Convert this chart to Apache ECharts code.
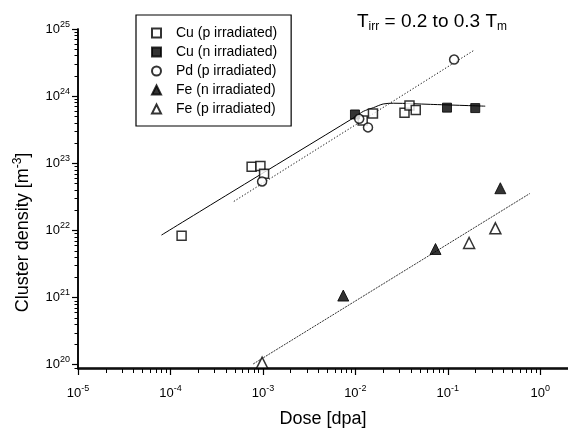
<!DOCTYPE html>
<html>
<head>
<meta charset="utf-8">
<script src="https://cdn.jsdelivr.net/npm/echarts@6/dist/echarts.min.js"></script>
<style>
  html, body { margin: 0; padding: 0; background: #fff; }
  #chart { width: 568px; height: 433px; }
</style>
</head>
<body>
<div id="chart"></div>
<script>
// measured points, dose in dpa, density in m^-3
const cuPDose = [1.32e-4, 7.55e-4, 9.4e-4, 1.03e-3, 1.2e-2, 1.55e-2, 3.4e-2, 3.85e-2, 4.5e-2];
const cuPDens = [8.2e21, 8.8e22, 9.0e22, 6.9e22, 4.3e23, 5.5e23, 5.6e23, 7.2e23, 6.2e23];
const cuNDose = [9.9e-3, 9.8e-2, 0.198];
const cuNDens = [5.3e23, 6.7e23, 6.6e23];
const pdDose = [9.8e-4, 1.1e-2, 1.37e-2, 0.117];
const pdDens = [5.3e22, 4.57e23, 3.4e23, 3.5e24];
const feNDose = [7.4e-3, 7.36e-2, 0.37];
const feNDens = [1.05e21, 5.2e21, 4.2e22];
const fePDose = [9.8e-4, 0.17, 0.327];
const fePDens = [1.05e20, 6.4e21, 1.06e22];

// fit lines
const cuFitDose = [8e-5, 4.4e-4, 1.0e-2, 1.22e-2, 1.57e-2, 2.0e-2, 2.6e-2, 6.5e-2, 0.254];
const cuFitDens = [8.4e21, 3.55e22, 4.9e23, 5.9e23, 6.7e23, 7.6e23, 7.8e23, 7.5e23, 7.05e23];
const pdFitDose = [4.85e-4, 0.196];
const pdFitDens = [2.67e22, 4.9e24];
const feFitDose = [7.85e-4, 0.77];
const feFitDens = [1.0e20, 3.5e22];

const xDecades = [-5, -4, -3, -2, -1, 0];
const yDecades = [20, 21, 22, 23, 24, 25];

const FONT = "Liberation Sans, Arial, Helvetica, sans-serif";

function pts(xs, ys) {
  return xs.map((x, i) => [Math.log10(x), Math.log10(ys[i])]);
}

function minors(lo, hi) {
  const out = [];
  for (let d = Math.floor(lo) - 1; d <= Math.ceil(hi); d++) {
    for (let k = 2; k <= 9; k++) {
      const v = d + Math.log10(k);
      if (v > lo && v < hi) out.push(v);
    }
  }
  return out;
}

const X_MIN = -5, X_MAX = 0.3;
const Y_MIN = 19.94, Y_MAX = 25;

const powLabel = (v) => "{b|10}{s|" + Math.round(v) + "}";
const powRich = {
  b: { fontSize: 13, lineHeight: 18, color: "#000", fontFamily: FONT },
  s: { fontSize: 9, lineHeight: 8, verticalAlign: "top", color: "#000", fontFamily: FONT },
};

const line = { show: true, onZero: false, lineStyle: { color: "#000", width: 1.5 } };
const plotBox = { left: 78, right: 0, top: 29, bottom: 64 };

const chart = echarts.init(document.getElementById("chart"), null, { renderer: "canvas" });

chart.setOption({
  animation: false,
  backgroundColor: "#fff",
  textStyle: { fontFamily: FONT },
  title: {
    left: 352,
    top: 6,
    text: "{t|T}{sub|irr}{t| = 0.2 to 0.3 T}{sub|m}",
    textStyle: {
      fontWeight: "normal",
      rich: {
        t: { fontSize: 19, lineHeight: 22, fontWeight: "normal", color: "#000", fontFamily: FONT },
        sub: { fontSize: 12, lineHeight: 12, fontWeight: "normal", verticalAlign: "bottom", color: "#000", fontFamily: FONT },
      },
    },
  },
  legend: {
    left: 136,
    top: 15,
    orient: "vertical",
    padding: [11, 14, 10, 15],
    itemGap: 5,
    itemWidth: 9,
    itemHeight: 9,
    borderColor: "#000",
    borderWidth: 1.2,
    backgroundColor: "#fff",
    textStyle: { fontSize: 14, lineHeight: 14, color: "#000", fontFamily: FONT, padding: [0, 0, 0, 10] },
    data: ["Cu (p irradiated)", "Cu (n irradiated)", "Pd (p irradiated)", "Fe (n irradiated)", "Fe (p irradiated)"],
  },
  // second grid sits on top of the first and only carries the minor ticks
  grid: [plotBox, plotBox],
  xAxis: [
    {
      type: "value",
      gridIndex: 0,
      min: X_MIN,
      max: X_MAX,
      name: "Dose [dpa]",
      nameLocation: "middle",
      nameGap: 42,
      nameTextStyle: { fontSize: 18, color: "#000", fontFamily: FONT },
      axisLine: line,
      axisTick: { show: true, customValues: xDecades, length: 7, lineStyle: { color: "#000", width: 1.2 } },
      axisLabel: { customValues: xDecades, margin: 16, formatter: powLabel, rich: powRich },
      splitLine: { show: false },
    },
    {
      type: "value",
      gridIndex: 1,
      min: X_MIN,
      max: X_MAX,
      position: "bottom",
      axisLine: line,
      axisTick: { show: true, customValues: minors(X_MIN, X_MAX), length: 4, lineStyle: { color: "#000", width: 1 } },
      axisLabel: { show: false },
      splitLine: { show: false },
    },
  ],
  yAxis: [
    {
      type: "value",
      gridIndex: 0,
      min: Y_MIN,
      max: Y_MAX,
      name: "{a|Cluster density [m}{s|-3}{a|]}",
      nameLocation: "middle",
      nameGap: 44,
      nameTextStyle: {
        padding: [0, 68, 0, 0],
        rich: {
          a: { fontSize: 18, lineHeight: 22, color: "#000", fontFamily: FONT },
          s: { fontSize: 12, lineHeight: 12, verticalAlign: "top", color: "#000", fontFamily: FONT },
        },
      },
      axisLine: line,
      axisTick: { show: true, customValues: yDecades, length: 6, lineStyle: { color: "#000", width: 1.2 } },
      axisLabel: { customValues: yDecades, margin: 8, formatter: powLabel, rich: powRich },
      splitLine: { show: false },
    },
    {
      type: "value",
      gridIndex: 1,
      min: Y_MIN,
      max: Y_MAX,
      position: "left",
      axisLine: line,
      axisTick: { show: true, customValues: minors(Y_MIN, Y_MAX), length: 3.5, lineStyle: { color: "#000", width: 1 } },
      axisLabel: { show: false },
      splitLine: { show: false },
    },
  ],
  series: [
    {
      name: "Cu fit",
      type: "line",
      data: pts(cuFitDose, cuFitDens),
      smooth: 0.3,
      showSymbol: false,
      silent: true,
      lineStyle: { color: "#000", width: 1 },
      z: 1,
    },
    {
      name: "Pd fit",
      type: "line",
      data: pts(pdFitDose, pdFitDens),
      showSymbol: false,
      silent: true,
      lineStyle: { color: "#000", width: 1, type: [1.2, 2] },
      z: 1,
    },
    {
      name: "Fe fit",
      type: "line",
      data: pts(feFitDose, feFitDens),
      showSymbol: false,
      silent: true,
      lineStyle: { color: "#333", width: 1, type: [2, 1] },
      z: 1,
    },
    {
      name: "Cu (p irradiated)",
      type: "scatter",
      symbol: "rect",
      symbolSize: 9,
      data: pts(cuPDose, cuPDens),
      itemStyle: { color: "#fff", borderColor: "#000", borderWidth: 1.5 },
      z: 3,
    },
    {
      name: "Cu (n irradiated)",
      type: "scatter",
      symbol: "rect",
      symbolSize: 9,
      data: pts(cuNDose, cuNDens),
      itemStyle: { color: "#000", borderColor: "#000", borderWidth: 1 },
      z: 3,
    },
    {
      name: "Pd (p irradiated)",
      type: "scatter",
      symbol: "circle",
      symbolSize: 9,
      data: pts(pdDose, pdDens),
      itemStyle: { color: "#fff", borderColor: "#000", borderWidth: 1.5 },
      z: 3,
    },
    {
      name: "Fe (n irradiated)",
      type: "scatter",
      symbol: "triangle",
      symbolSize: 11,
      data: pts(feNDose, feNDens),
      itemStyle: { color: "#000", borderColor: "#000", borderWidth: 1 },
      z: 3,
    },
    {
      name: "Fe (p irradiated)",
      type: "scatter",
      symbol: "triangle",
      symbolSize: 11,
      data: pts(fePDose, fePDens),
      itemStyle: { color: "#fff", borderColor: "#000", borderWidth: 1.5 },
      z: 3,
    },
  ],
});
</script>
</body>
</html>
